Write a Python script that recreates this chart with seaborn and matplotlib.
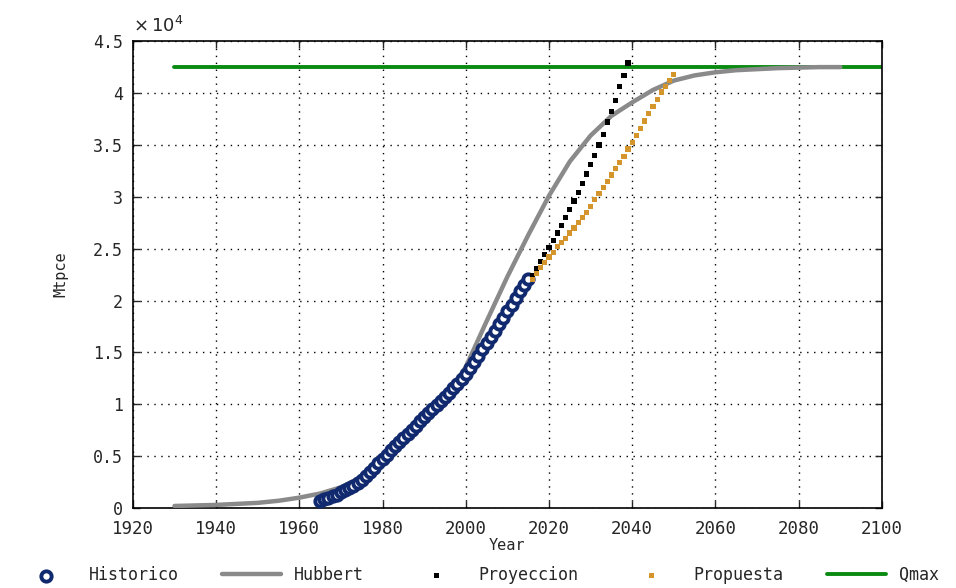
import matplotlib
matplotlib.use('Agg')
import matplotlib.pyplot as plt
import matplotlib.ticker as mticker
import seaborn as sns
import pandas as pd

# datos (Mtpce)
hist_years = list(range(1965, 2016))
hist_vals = [700, 850, 1000, 1150, 1300, 1500, 1700, 1900, 2150, 2400,
             2700, 3050, 3450, 3850, 4300, 4750, 5150, 5550, 5950, 6350,
             6750, 7150, 7550, 7950, 8350, 8750, 9150, 9550, 9950, 10350,
             10700, 11100, 11550, 12000, 12450, 12900, 13500, 14100, 14700, 15300,
             15900, 16500, 17100, 17700, 18300, 18950, 19600, 20250, 20900, 21500,
             22100]

hub_years = list(range(1930, 2095, 5))
hub_vals = [200, 250, 300, 400, 500, 700, 1000, 1400, 2000, 3000,
            4600, 6300, 8200, 10400, 13600, 18000, 22300, 26300, 30100, 33400,
            35900, 37800, 39100, 40300, 41200, 41700, 42000, 42200, 42300, 42400,
            42450, 42500, 42500]

proy_years = list(range(2016, 2040))
proy_vals = [22400, 23100, 23800, 24400, 25100, 25800, 26500, 27200, 28000, 28800,
             29600, 30400, 31300, 32200, 33100, 34000, 35000, 36000, 37200, 38200,
             39300, 40600, 41700, 42900]

prop_years = list(range(2016, 2051))
prop_vals = [22000, 22600, 23200, 23700, 24200, 24600, 25200, 25600, 26000, 26500,
             27000, 27500, 28000, 28500, 29100, 29700, 30300, 30900, 31500, 32100,
             32700, 33300, 33900, 34600, 35200, 35900, 36600, 37300, 38000, 38700,
             39400, 40100, 40600, 41200, 41800]

qmax_years = [1930, 2100]
qmax_vals = [42500, 42500]

sns.set_style('ticks')
plt.rcParams['font.family'] = ['DejaVu Sans Mono', 'DejaVu Sans']

fig = plt.figure(figsize=(9.56, 5.88), dpi=100)
ax = fig.add_axes([0.139, 0.136, 0.7835, 0.794])

df_hist = pd.DataFrame({'year': hist_years, 'val': hist_vals})
df_hub = pd.DataFrame({'year': hub_years, 'val': hub_vals})
df_proy = pd.DataFrame({'year': proy_years, 'val': proy_vals})
df_prop = pd.DataFrame({'year': prop_years, 'val': prop_vals})
df_qmax = pd.DataFrame({'year': qmax_years, 'val': qmax_vals})

sns.lineplot(data=df_qmax, x='year', y='val', color='#0b8a12', lw=2.8, ax=ax,
             label='Qmax', zorder=2)
sns.lineplot(data=df_hub, x='year', y='val', color='#8a8a8a', lw=3.2, ax=ax,
             label='Hubbert', zorder=3)
sns.scatterplot(data=df_hist, x='year', y='val', marker='o', s=55,
                facecolor='white', edgecolor='#11296e', linewidth=2.8, ax=ax,
                label='Historico', zorder=4)
sns.scatterplot(data=df_proy, x='year', y='val', marker='s', s=14,
                color='black', edgecolor='none', ax=ax, label='Proyeccion', zorder=5)
sns.scatterplot(data=df_prop, x='year', y='val', marker='s', s=14,
                color='#d4962c', edgecolor='none', ax=ax, label='Propuesta', zorder=5)

ax.set_xlim(1920, 2100)
ax.set_ylim(0, 45000)
ax.set_xticks(range(1920, 2101, 20))
ax.set_yticks([i * 5000 for i in range(10)])
ax.yaxis.set_major_formatter(mticker.FuncFormatter(lambda v, p: f'{v / 1e4:g}'))
ax.grid(True, linestyle=(0, (1, 4)), color='black', linewidth=1.0)
ax.tick_params(direction='in', top=True, right=True, length=5, width=1, labelsize=12.5)
ax.tick_params(axis='y', pad=7, labelsize=12)
ax.tick_params(axis='x', pad=8.5)
for s in ax.spines.values():
    s.set_linewidth(1.2)
    s.set_color('black')

ax.set_xlabel('Year', fontsize=11, labelpad=0)
ax.set_ylabel('Mtpce', fontsize=11, labelpad=18)
ax.text(0.0, 1.012, r'$\times\,10^4$', transform=ax.transAxes, fontsize=13,
        ha='left', va='bottom')

h, l = ax.get_legend_handles_labels()
order = ['Historico', 'Hubbert', 'Proyeccion', 'Propuesta', 'Qmax']
hl = dict(zip(l, h))
ax.legend([hl[k] for k in order], order, loc='center', ncol=5, frameon=False,
          bbox_to_anchor=(0.5, 0.022), bbox_transform=fig.transFigure,
          fontsize=12, handlelength=3.5, columnspacing=2.6, handletextpad=0.8)

fig.savefig('out.png', dpi=100)
